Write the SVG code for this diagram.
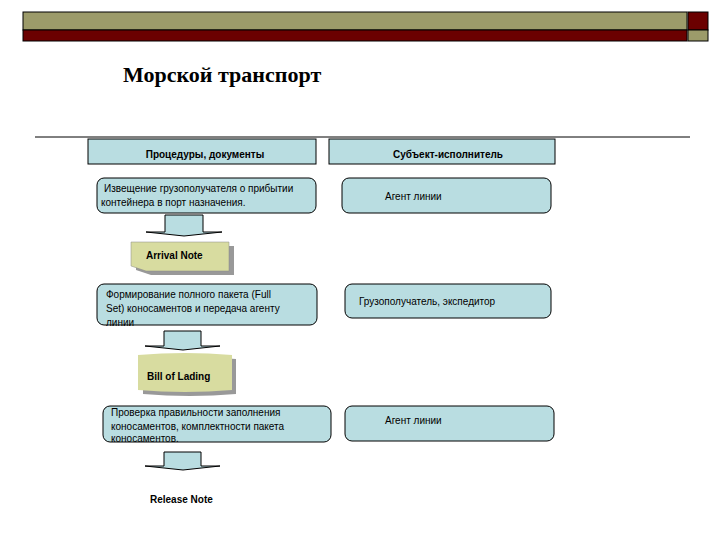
<svg xmlns="http://www.w3.org/2000/svg" width="720" height="540" viewBox="0 0 720 540">
<style>
text{font-family:"Liberation Sans",Arial,sans-serif;font-size:10px;fill:#000}
.b{fill:#b9dde1;stroke:#000;stroke-width:1}
.h{font-weight:bold}
.note{fill:#d8dca0}
.sh{fill:#999}
.ar{fill:#b9dde1;stroke:#000;stroke-width:1}
</style>
<rect width="720" height="540" fill="#fff"/>
<g id="topbar">
<rect x="23" y="12" width="664" height="18" fill="#9c9b6a" stroke="#000" stroke-width="1"/>
<rect x="23" y="30" width="664" height="11" fill="#6b0000" stroke="#000" stroke-width="1"/>
<rect x="688" y="12" width="20" height="18" fill="#6b0000" stroke="#000" stroke-width="1"/>
<rect x="688" y="30" width="20" height="11" fill="#9c9b6a" stroke="#000" stroke-width="1"/>
</g>
<text x="123" y="82" style="font-family:'Liberation Serif',serif;font-size:22px;font-weight:bold">Морской транспорт</text>
<line x1="35" y1="137" x2="690" y2="137" stroke="#000" stroke-width="1"/>
<g id="h1"><rect class="b" x="88" y="139" width="228" height="25"/><text class="h" x="205" y="158" text-anchor="middle">Процедуры, документы</text></g>
<g id="h2"><rect class="b" x="329" y="139" width="226" height="25"/><text class="h" x="448" y="158" text-anchor="middle">Субъект-исполнитель</text></g>
<g id="p1"><rect class="b" x="97" y="178" width="219" height="35" rx="7"/><text x="104" y="192">Извещение грузополучателя о прибытии</text><text x="101" y="206">контейнера в порт назначения.</text></g>
<g id="s1"><rect class="b" x="342" y="178" width="209" height="35" rx="7"/><text x="385" y="200">Агент линии</text></g>
<g id="p2"><rect class="b" x="97" y="284" width="220" height="41" rx="7"/><text x="106" y="298">Формирование полного пакета (Full</text><text x="106" y="312">Set) коносаментов и передача агенту</text><text x="106" y="326">линии</text></g>
<g id="s2"><rect class="b" x="345" y="284" width="206" height="34" rx="7"/><text x="359" y="305">Грузополучатель, экспедитор</text></g>
<g id="p3"><rect class="b" x="103" y="406" width="228" height="36" rx="7"/><text x="111" y="416">Проверка правильности заполнения</text><text x="111" y="430">коносаментов, комплектности пакета</text><text x="111" y="442">коносаментов.</text></g>
<g id="s3"><rect class="b" x="345" y="406" width="209" height="35" rx="7"/><text x="385" y="424">Агент линии</text></g>
<g id="n1"><path class="sh" d="M136 246 H234 V275 H151 L136 270 Z"/><path class="note" stroke="#888" stroke-width="0.5" d="M131 242 H229 V271 H146 L131 266 Z"/><text class="h" x="146" y="259">Arrival Note</text></g>
<g id="n2"><path class="sh" d="M143 359 Q190 355 236 359 V394 Q190 398 143 394 Z"/><path class="note" d="M138 355 Q185 351 232 355 V390 Q185 394 138 390 Z"/><text class="h" x="147" y="380">Bill of Lading</text></g>
<g id="n3"><text class="h" x="150" y="503">Release Note</text></g>
<g id="connectors">
<path class="ar" d="M165 215 H203 V232 H222 L184 236 L146 232 H165 Z"/>
<path class="ar" d="M164 331 H201 V346 H220 L183 350 L145 346 H164 Z"/>
<path class="ar" d="M164 452 H201 V466 H220 L183 470 L145 466 H164 Z"/>
</g>
</svg>
